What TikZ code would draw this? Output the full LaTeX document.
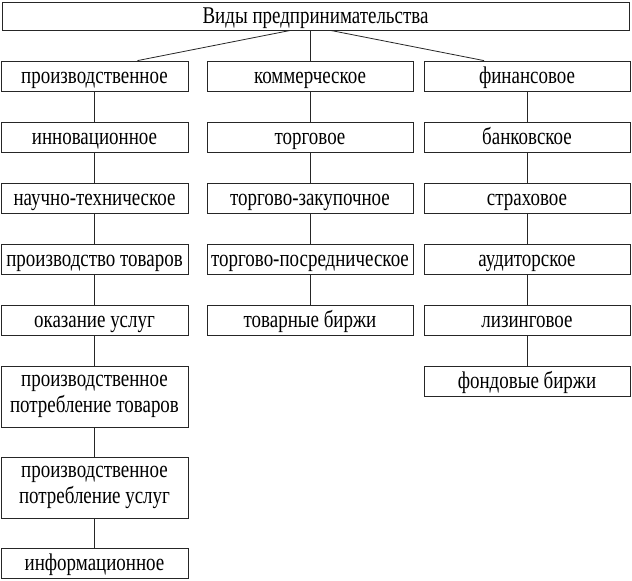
\documentclass[tikz,border=0pt]{standalone}
\usepackage{fontspec}
\setmainfont{Liberation Serif}[FakeStretch=0.79]
\begin{document}
\begin{tikzpicture}[x=1pt,y=1pt,
  box/.style={draw=black!85, line width=0.8pt, inner sep=0pt, align=center,
    font=\fontsize{24}{26}\selectfont, minimum height=30pt},
  one/.style={text height=18pt, text depth=3pt},
  lc/.style={box, minimum width=187pt},
  mc/.style={box, minimum width=206pt},
  rc/.style={box, minimum width=206pt},
  tall/.style={minimum height=61pt},
  link/.style={draw=black!85, line width=0.8pt}]
\useasboundingbox (0,0) rectangle (632,-581);
\node[box, one, minimum width=627pt, minimum height=28pt] (top) at (315.5,-16) {Виды предпринимательства};
% left column
\node[lc, one] (l1) at (94.5,-76) {производственное};
\node[lc, one] (l2) at (94.5,-137) {инновационное};
\node[lc, one] (l3) at (94.5,-198) {научно-техническое};
\node[lc, one] (l4) at (94.5,-259) {производство товаров};
\node[lc, one] (l5) at (94.5,-320) {оказание услуг};
\node[lc, tall] (l6) at (94.5,-396.5) {производственное\\потребление товаров};
\node[lc, tall] (l7) at (94.5,-487.5) {производственное\\потребление услуг};
\node[lc, one] (l8) at (94.5,-563) {информационное};
% middle column
\node[mc, one] (m1) at (310,-76) {коммерческое};
\node[mc, one] (m2) at (310,-137) {торговое};
\node[mc, one] (m3) at (310,-198) {торгово-закупочное};
\node[mc, one] (m4) at (310,-259) {торгово-посредническое};
\node[mc, one] (m5) at (310,-320) {товарные биржи};
% right column
\node[rc, one] (r1) at (527,-76) {финансовое};
\node[rc, one] (r2) at (527,-137) {банковское};
\node[rc, one] (r3) at (527,-198) {страховое};
\node[rc, one] (r4) at (527,-259) {аудиторское};
\node[rc, one] (r5) at (527,-320) {лизинговое};
\node[rc, one] (r6) at (527,-381) {фондовые биржи};
% connectors
\draw[link] ([xshift=-25pt]top.south) -- ([xshift=43pt]l1.north);
\draw[link] (top.south -| m1.north) -- (m1.north);
\draw[link] ([xshift=15pt]top.south) -- ([xshift=-43pt]r1.north);
\foreach \a/\b in {l1/l2,l2/l3,l3/l4,l4/l5,l5/l6,l6/l7,l7/l8,
  m1/m2,m2/m3,m3/m4,m4/m5,r1/r2,r2/r3,r3/r4,r4/r5,r5/r6}
  \draw[link] (\a.south) -- (\b.north);
\end{tikzpicture}
\end{document}
